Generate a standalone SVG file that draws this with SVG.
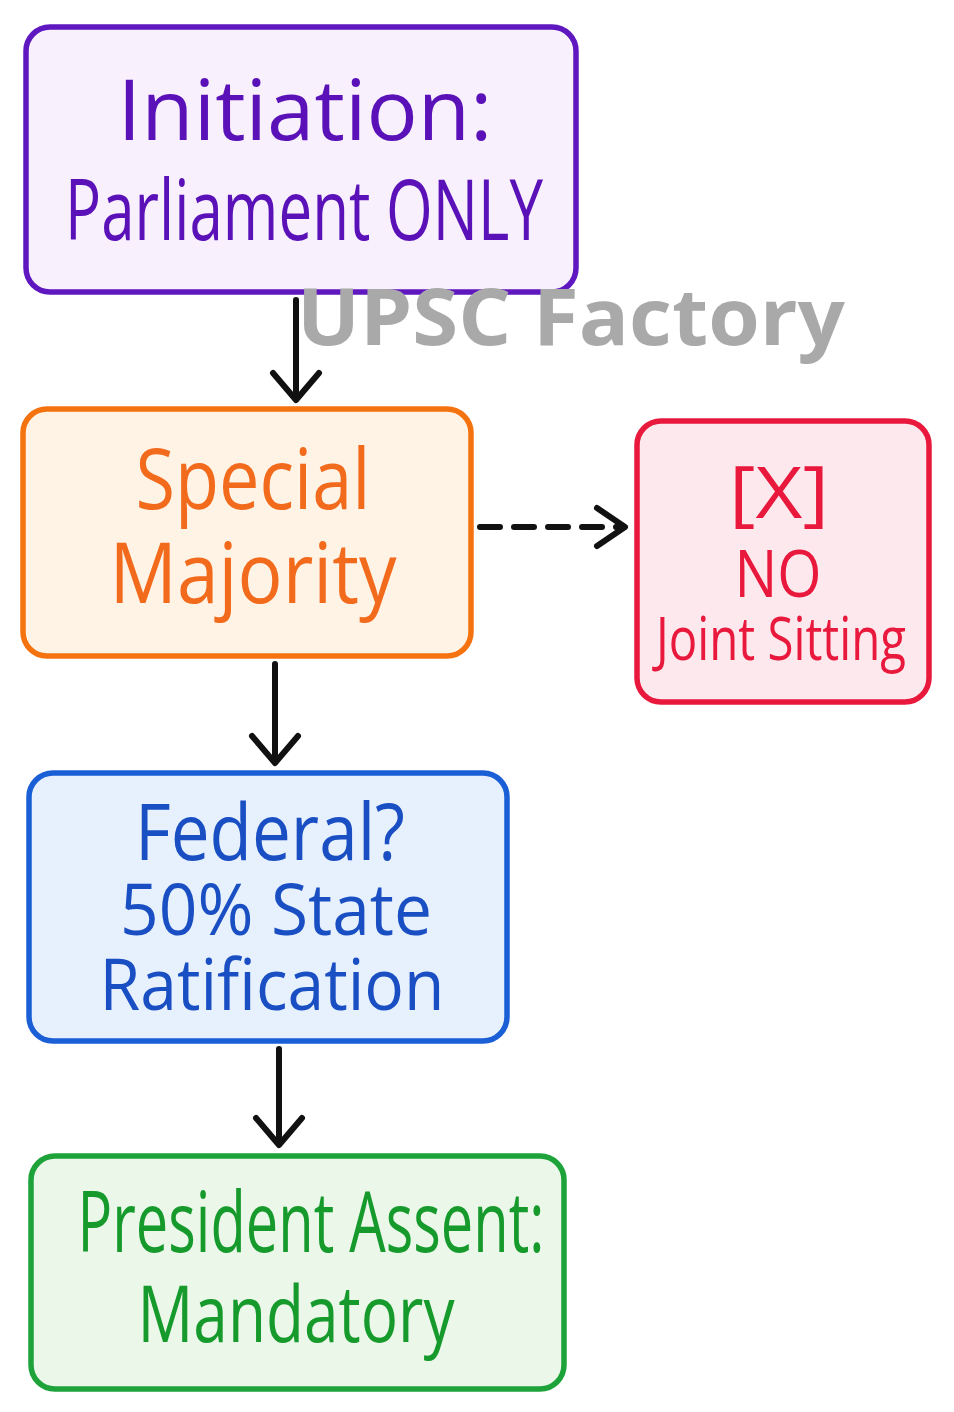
<svg xmlns="http://www.w3.org/2000/svg" width="954" height="1412" viewBox="0 0 954 1412">
<defs>
<style>
.box{stroke-width:5.5}
.t{font-family:"Open Sans","Liberation Sans",sans-serif;font-weight:500;text-anchor:middle}
.wm{font-family:"Open Sans","Liberation Sans",sans-serif;font-weight:700;fill:#a9a9a9;text-anchor:start}
.conn{stroke:#111;stroke-width:6;fill:none;stroke-linecap:round;stroke-linejoin:round}
</style>
</defs>
<rect width="954" height="1412" fill="#ffffff"/>
<g id="node-initiation">
<rect class="box" x="26" y="27" width="550" height="265" rx="24" fill="#f8f1fd" stroke="#5f17bf"/>
<text class="t" x="305" y="140" font-size="84" fill="#5a12b8" textLength="375" lengthAdjust="spacingAndGlyphs">Initiation:</text>
<text class="t" x="304" y="240" font-size="84" fill="#5a12b8" textLength="478" lengthAdjust="spacingAndGlyphs">Parliament ONLY</text>
</g>
<g id="node-special">
<rect class="box" x="23" y="409" width="448" height="247" rx="24" fill="#fff3e6" stroke="#f5730f"/>
<text class="t" x="253" y="509" font-size="84" fill="#f26a1b" textLength="235" lengthAdjust="spacingAndGlyphs">Special</text>
<text class="t" x="253" y="603" font-size="84" fill="#f26a1b" textLength="287" lengthAdjust="spacingAndGlyphs">Majority</text>
</g>
<g id="node-nojoint">
<rect class="box" x="637" y="421" width="292" height="281" rx="24" fill="#fde9ed" stroke="#e8193c"/>
<text class="t" x="779" y="518" font-size="72" fill="#e8193c" textLength="100" lengthAdjust="spacingAndGlyphs">[X]</text>
<text class="t" x="778" y="597" font-size="66" fill="#e8193c" textLength="87" lengthAdjust="spacingAndGlyphs">NO</text>
<text class="t" x="781" y="660" font-size="60" fill="#e8193c" textLength="250" lengthAdjust="spacingAndGlyphs">Joint Sitting</text>
</g>
<g id="node-federal">
<rect class="box" x="29" y="773" width="478" height="268" rx="24" fill="#e7f1fd" stroke="#1a5fd6"/>
<text class="t" x="270" y="860" font-size="78" fill="#1a4fc4" textLength="270" lengthAdjust="spacingAndGlyphs">Federal?</text>
<text class="t" x="276" y="935" font-size="72" fill="#1a4fc4" textLength="312" lengthAdjust="spacingAndGlyphs">50% State</text>
<text class="t" x="272" y="1010" font-size="72" fill="#1a4fc4" textLength="345" lengthAdjust="spacingAndGlyphs">Ratification</text>
</g>
<g id="node-president">
<rect class="box" x="31" y="1156" width="533" height="233" rx="24" fill="#eaf7e9" stroke="#1ea33a"/>
<text class="t" x="311" y="1252" font-size="84" fill="#169a2c" textLength="467" lengthAdjust="spacingAndGlyphs">President Assent:</text>
<text class="t" x="296" y="1342" font-size="78" fill="#169a2c" textLength="317" lengthAdjust="spacingAndGlyphs">Mandatory</text>
</g>
<text class="wm" x="297" y="345" font-size="78" textLength="548" lengthAdjust="spacingAndGlyphs">UPSC Factory</text>
<g id="connectors">
<path class="conn" d="M296 300 L296 398 M273 373 L296 400 L319 373"/>
<path class="conn" d="M275 664 L275 761 M252 736 L275 763 L298 736"/>
<path class="conn" d="M279 1049 L279 1143 M256 1118 L279 1145 L302 1118"/>
<path class="conn" d="M480 527 L622 527" stroke-dasharray="20 14"/>
<path class="conn" d="M597 508 L625 527 L597 546"/>
</g>
</svg>
